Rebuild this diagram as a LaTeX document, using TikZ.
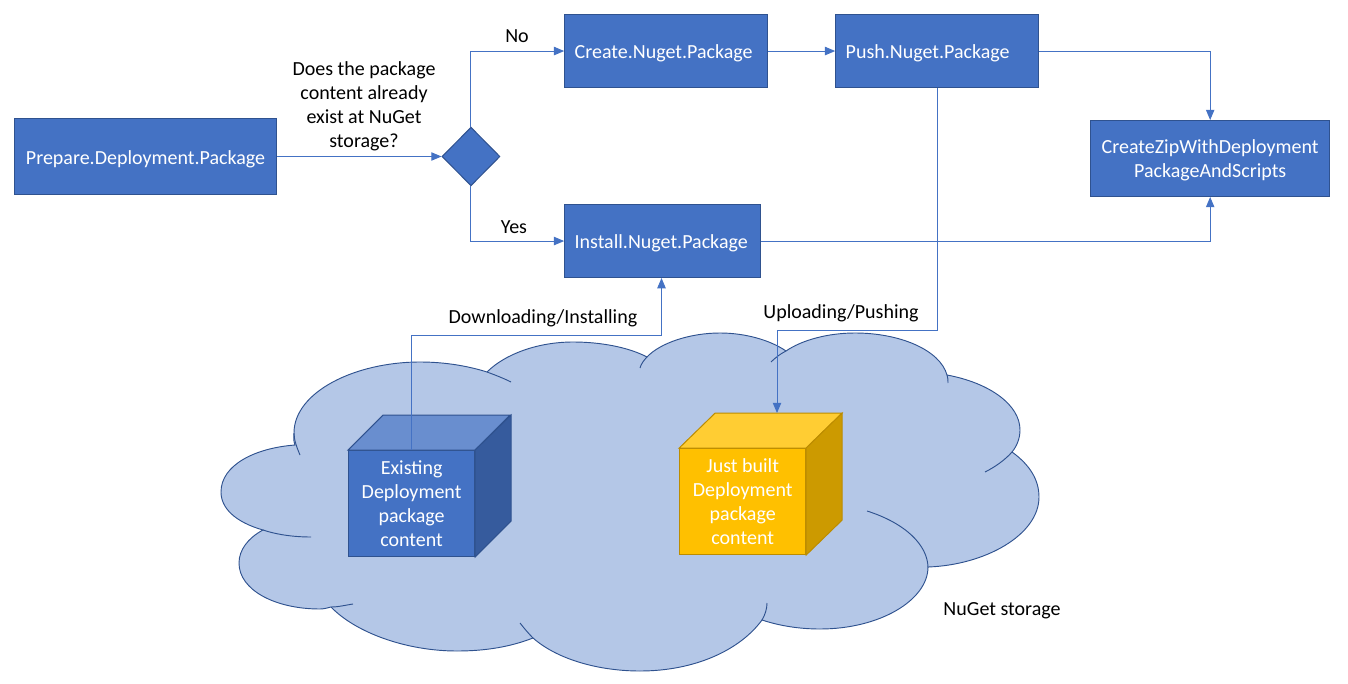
\documentclass[tikz,border=0pt]{standalone}
\usepackage{fontspec}
\setmainfont{Carlito}
\usetikzlibrary{shapes, shapes.geometric, arrows}
\usetikzlibrary{positioning}
\tikzset{every picture/.style={/utils/exec={\fontsize{15}{18}\selectfont}, line width=0.75pt}}
\definecolor{boxblue}{HTML}{4472C4}
\definecolor{boxedge}{HTML}{2F528F}
\definecolor{cloudfill}{HTML}{B4C7E7}
\definecolor{cubeblueside}{HTML}{365B9D}
\definecolor{cubebluetop}{HTML}{698ECF}
\definecolor{cubegold}{HTML}{FFC000}
\definecolor{cubegoldside}{HTML}{CC9A00}
\definecolor{cubegoldtop}{HTML}{FFCD33}
\definecolor{cubegoldedge}{HTML}{BC8C00}

\begin{document}
\begin{tikzpicture}[x=0.75pt,y=0.75pt,yscale=-1,xscale=1]

     \tikzstyle{theme} = [fill = boxblue,
						draw = boxedge,
						text = white,
						minimum height = 54.75pt,
						inner ysep = 0pt,
						inner xsep = 7.5pt,
						align = left,
						text height = 14.8pt,
						text depth = 3pt,
						]
     \tikzstyle{decision} = [diamond,
						aspect = 1,
						fill = boxblue,
						draw = boxedge,
						inner sep = 0pt,
						minimum width = 43.5pt,
						minimum height = 44pt,
						]
     \tikzstyle{cube} = [fill = boxblue, draw = boxedge, text = white, align = center, inner sep = 0pt,
						minimum width = 94.5pt, minimum height = 79.5pt]
     \tikzstyle{caption} = [align = center, text = black, inner sep = 0pt]
     \tikzstyle{arrow} = [draw = boxblue, ->, >=triangle 45]
     \tikzstyle{cloudline} = [draw = boxedge, line width = 0.7pt]

\useasboundingbox (0,0) rectangle (1348,684);

% cloud
\path [fill = cloudfill, cloudline]
  (263,530) .. controls (235,522) and (221,508) .. (221,492)
  .. controls (221,465) and (255,448) .. (295,445)
  .. controls (293,440) and (294,436) .. (294,433)
  .. controls (294,392) and (355,362) .. (420,362)
  .. controls (445,362) and (468,366) .. (487,372)
  .. controls (505,354) and (538,342) .. (573,342)
  .. controls (600,342) and (628,347) .. (647,357)
  .. controls (660,343) and (690,333) .. (720,333)
  .. controls (745,333) and (770,340) .. (786,351)
  .. controls (802,340) and (828,333) .. (855,333)
  .. controls (900,333) and (940,350) .. (947,375)
  .. controls (990,383) and (1020,405) .. (1020,430)
  .. controls (1020,438) and (1017,446) .. (1012,452)
  .. controls (1030,465) and (1039,480) .. (1039,497)
  .. controls (1039,535) and (985,565) .. (928,567)
  .. controls (928,600) and (880,629) .. (820,629)
  .. controls (800,629) and (780,626) .. (762,620)
  .. controls (740,650) and (695,671) .. (640,671)
  .. controls (600,671) and (558,660) .. (533,638)
  .. controls (510,647) and (485,651) .. (457,651)
  .. controls (405,651) and (355,632) .. (331,607)
  .. controls (327,608) and (324,609) .. (320,609)
  .. controls (275,609) and (239,590) .. (239,563)
  .. controls (239,550) and (248,538) .. (263,530) -- cycle;
\draw [cloudline] (263,530) .. controls (278,535) and (295,537) .. (311,537);
\draw [cloudline] (294,433) .. controls (294,440) and (297,448) .. (300,455);
\draw [cloudline] (487,372) .. controls (495,375) and (503,378) .. (511,382);
\draw [cloudline] (647,357) .. controls (644,360) and (641,364) .. (640,368);
\draw [cloudline] (786,351) .. controls (780,354) and (775,358) .. (771,362);
\draw [cloudline] (947,375) .. controls (948,378) and (948,380) .. (948,383);
\draw [cloudline] (1012,452) .. controls (1005,460) and (995,467) .. (985,472);
\draw [cloudline] (928,568) .. controls (928,545) and (905,523) .. (867,511);
\draw [cloudline] (762,620) .. controls (765,615) and (767,609) .. (767,603);
\draw [cloudline] (533,638) .. controls (528,633) and (524,628) .. (520,623);
\draw [cloudline] (331,607) .. controls (339,607) and (346,605) .. (353,604);

% flow boxes
\node [theme, align = center, text width = 181.5pt, minimum height = 57pt] (prepare) at (145.5,156.5) {Prepare.Deployment.Package};
\node [decision, on grid, right = 244.1pt of prepare] (exists) {};
\node [theme, text width = 137.25pt, on grid, above right = 79.1pt and 146.4pt of exists] (create) {Create.Nuget.Package};
\node [theme, text width = 132pt, on grid, below right = 63.4pt and 143.75pt of exists] (install) {Install.Nuget.Package};
\node [theme, text width = 137.25pt, on grid, right = 203.25pt of create] (push) {Push.Nuget.Package};
\node [cube, minimum width = 179.25pt, minimum height = 57pt, text height = 31.7pt, text depth = 3pt, on grid, below right = 80.6pt and 204.75pt of push] (zip) {CreateZipWithDeployment\\PackageAndScripts};

% cubes
\node [cube] (existing) at (411.6,503.5) {Existing\\Deployment\\package\\content};
\fill [cubebluetop, draw = boxedge] (existing.north west) -- ++(35,-35) -- ++(127,0) -- (existing.north east) -- cycle;
\fill [cubeblueside, draw = boxedge] (existing.north east) -- ++(36,-35) -- ++(0,106) -- (existing.south east) -- cycle;
\node [cube, fill = cubegold, draw = cubegoldedge] (built) at (742.7,501.5) {Just built\\Deployment\\package\\content};
\fill [cubegoldtop, draw = cubegoldedge] (built.north west) -- ++(36,-35) -- ++(127,0) -- (built.north east) -- cycle;
\fill [cubegoldside, draw = cubegoldedge] (built.north east) -- ++(36,-35) -- ++(0,107) -- (built.south east) -- cycle;

% labels
\node [caption] (question) at (364,106) {Does the package\\content already\\exist at NuGet\\storage?};
\node [caption] (nolabel) at (517,36) {No};
\node [caption] (yeslabel) at (514,227) {Yes};
\node [caption] (downlabel) at (543,318.5) {Downloading/Installing};
\node [caption] (uplabel) at (841,313.5) {Uploading/Pushing};
\node [caption] (storagelabel) at (1002,611) {NuGet storage};

\coordinate (downbend) at (661.5,335);
\coordinate (upbend) at (777,330);
\coordinate (upend) at (777,413);

\draw[arrow] (prepare) -- (exists);
\draw[arrow] (exists) |- (create);
\draw[arrow] (exists) |- (install);
\draw[arrow] (create) -- (push);
\draw[arrow] (push) -| (zip);
\draw[arrow] (install) -| (zip);
\draw[arrow] (existing.north) |- (downbend) -- (downbend |- install.south);
\draw[arrow] (push.south) |- (upbend) -- (upend);

\end{tikzpicture}
\end{document}
